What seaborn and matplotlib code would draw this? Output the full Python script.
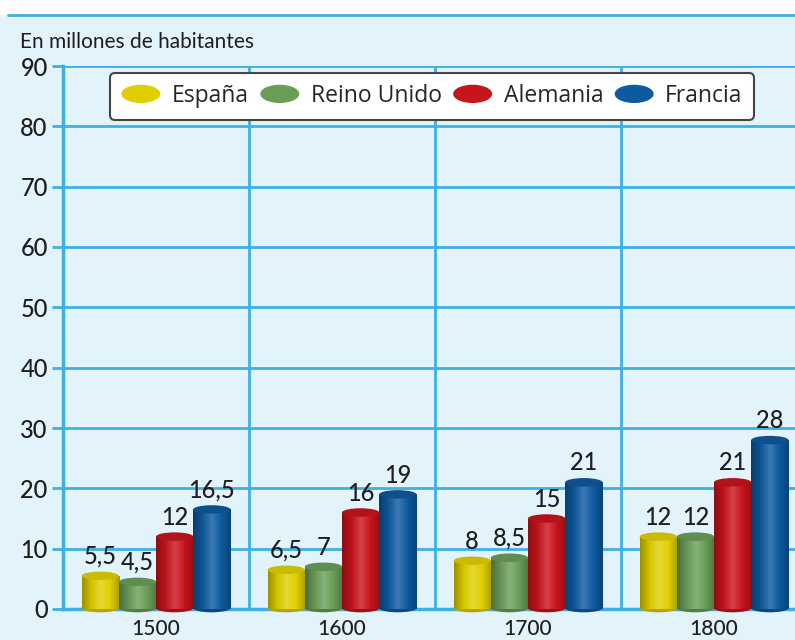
import matplotlib
matplotlib.use("Agg")
import matplotlib.pyplot as plt
import matplotlib.patches as mpatches
from matplotlib.legend_handler import HandlerPatch
from matplotlib.colors import LinearSegmentedColormap, to_rgb
import numpy as np
import pandas as pd
import seaborn as sns

years = ["1500", "1600", "1700", "1800"]
countries = ["España", "Reino Unido", "Alemania", "Francia"]
espana = [5.5, 6.5, 8, 12]
reino_unido = [4.5, 7, 8.5, 12]
alemania = [12, 16, 15, 21]
francia = [16.5, 19, 21, 28]
labels = {
    "España": ["5,5", "6,5", "8", "12"],
    "Reino Unido": ["4,5", "7", "8,5", "12"],
    "Alemania": ["12", "16", "15", "21"],
    "Francia": ["16,5", "19", "21", "28"],
}
colors = ["#e0cf00", "#6a9e58", "#c8141c", "#0d5a9e"]

rows = []
for c, vals in zip(countries, [espana, reino_unido, alemania, francia]):
    for y, v in zip(years, vals):
        rows.append({"year": y, "country": c, "value": v})
df = pd.DataFrame(rows)

sns.set_theme(style="white")
plt.rcParams["font.family"] = ["Lato", "DejaVu Sans"]

BG = "#e3f3fc"
GRID = "#3db0e6"
TXT = "#1e1e1e"
W, H = 795, 640
fig = plt.figure(figsize=(W / 100, H / 100), dpi=100)
fig.patch.set_facecolor("white")
fig.add_artist(mpatches.Rectangle((0, 0), 1, (H - 15) / H, transform=fig.transFigure,
                                  facecolor=BG, edgecolor="none", zorder=-10))
fig.add_artist(plt.Line2D([8 / W, 1], [(H - 15) / H] * 2, transform=fig.transFigure,
                          color=GRID, lw=2))

left, bottom = 63 / W, (H - 609) / H
top = (H - 66) / H
ax = fig.add_axes([left, bottom, 1 - left, top - bottom])
ax.set_facecolor(BG)

sns.barplot(data=df, x="year", y="value", hue="country", palette=colors,
            hue_order=countries, order=years, width=0.8, ax=ax, legend=False,
            saturation=1, edgecolor="none", zorder=3)

ax.set_ylim(0, 90)
ax.set_xlim(-0.5, -0.5 + (W - 63) / 186.0)
ax.set_yticks(range(0, 91, 10))
ax.set_yticklabels([str(v) for v in range(0, 91, 10)], fontsize=17, color=TXT,
                   fontweight="medium")
ax.tick_params(axis="y", length=8, width=2, color=GRID, pad=3, left=True)
ax.tick_params(axis="x", length=0, pad=7)
for t in ax.get_xticklabels():
    t.set_fontsize(15)
    t.set_color(TXT)
    t.set_fontweight("medium")
ax.set_xlabel("")
ax.set_ylabel("")
for s in ["top", "right"]:
    ax.spines[s].set_visible(False)
ax.spines["left"].set_color(GRID)
ax.spines["left"].set_linewidth(2.5)
ax.spines["bottom"].set_color(GRID)
ax.spines["bottom"].set_linewidth(2.5)
ax.grid(False)
for yv in range(10, 91, 10):
    ax.axhline(yv, color=GRID, lw=2, zorder=1)
for xv in np.arange(0.5, len(years) - 0.5, 1.0):
    ax.axvline(xv, color=GRID, lw=2, zorder=1)


def shade(c, f):
    r = np.array(to_rgb(c))
    if f < 0:
        return tuple(r * (1 + f))
    return tuple(r + (1 - r) * f)


cap_h = 1.4
bars = [p for p in ax.patches if isinstance(p, mpatches.Rectangle) and p.get_height() > 0]
n_years = len(years)
for i, p in enumerate(bars):
    ci = i // n_years
    yi = i % n_years
    col = colors[ci]
    x0, w, h = p.get_x(), p.get_width(), p.get_height()
    cmap = LinearSegmentedColormap.from_list(
        "g", [shade(col, -0.3), shade(col, -0.05), shade(col, 0.2), shade(col, 0.0), shade(col, -0.25)])
    grad = np.linspace(0, 1, 64).reshape(1, -1)
    im = ax.imshow(grad, cmap=cmap, aspect="auto", extent=(x0, x0 + w, 0, h),
                   zorder=4, interpolation="bicubic")
    im.set_clip_path(p)
    ax.add_patch(mpatches.Ellipse((x0 + w / 2, 0.15), w, cap_h, facecolor=shade(col, -0.2),
                                  edgecolor="none", zorder=3.5, clip_on=False))
    ax.add_patch(mpatches.Ellipse((x0 + w / 2, h), w, cap_h, facecolor=shade(col, -0.1),
                                  edgecolor="none", zorder=5))
    ax.text(x0 + w / 2, h + cap_h / 2 + 0.6, labels[countries[ci]][yi], ha="center",
            va="bottom", fontsize=17, color=TXT, zorder=6, fontweight="medium")

ax.set_xlim(-0.5, -0.5 + (W - 63) / 186.0)
ax.set_ylim(0, 90)

fig.text(20 / W, (H - 42) / H, "En millones de habitantes", fontsize=15,
         color=TXT, va="center", ha="left")


class HandlerEllipse(HandlerPatch):
    def create_artists(self, legend, orig_handle, xdescent, ydescent, width, height,
                       fontsize, trans):
        center = 0.5 * width - 0.5 * xdescent, 0.5 * height - 0.5 * ydescent
        e = mpatches.Ellipse(xy=center, width=width, height=height * 1.0)
        self.update_prop(e, orig_handle, legend)
        e.set_transform(trans)
        return [e]


handles = [mpatches.Ellipse((0, 0), 1, 1, facecolor=c, edgecolor="none") for c in colors]
leg = ax.legend(handles, countries, loc="center", bbox_to_anchor=(0.504, 0.944),
                ncol=4, frameon=True, fancybox=True,
                handler_map={mpatches.Ellipse: HandlerEllipse()},
                handlelength=1.7, handleheight=0.85, columnspacing=0.5,
                handletextpad=0.5, borderpad=0.5,
                prop={"family": ["Open Sans", "DejaVu Sans"], "size": 16.5})
leg.get_frame().set_facecolor("white")
leg.get_frame().set_edgecolor("#444444")
leg.get_frame().set_linewidth(1.5)
leg.get_frame().set_alpha(1)
leg.set_zorder(10)

fig.savefig("out.png", dpi=100, facecolor=fig.get_facecolor())
